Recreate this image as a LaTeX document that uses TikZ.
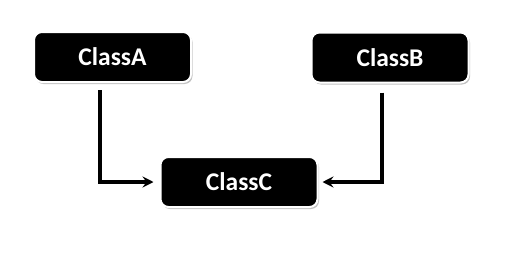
\documentclass[tikz,border=0pt]{standalone}
\usepackage{fontspec}
\setmainfont{Carlito}
\usetikzlibrary{arrows.meta,shadows}
\begin{document}
\begin{tikzpicture}[x=1pt,y=-1pt,
  classbox/.style={fill=black, draw=white, line width=2pt, rounded corners=8pt,
    minimum width=157pt, minimum height=50pt, inner sep=0pt,
    text=white, font=\bfseries\fontsize{25.5}{28}\selectfont,
    drop shadow={shadow xshift=1.5pt, shadow yshift=-2pt, opacity=0.4, fill=black!60}},
  link/.style={line width=3.3pt, -{Stealth[length=11pt,width=11pt,inset=4pt]}}]
\useasboundingbox (0,0) rectangle (508,257);
\node[classbox] (a) at (112.5,57) {ClassA};
\node[classbox] (b) at (390,57.5) {ClassB};
\node[classbox] (c) at (239,182) {ClassC};
\draw[link] ([yshift=-7pt]a.south -| 100,0) |- ([xshift=-6pt]c.west);
\draw[link] ([yshift=-9pt]b.south -| 382,0) |- ([xshift=4pt]c.east);
\end{tikzpicture}
\end{document}
